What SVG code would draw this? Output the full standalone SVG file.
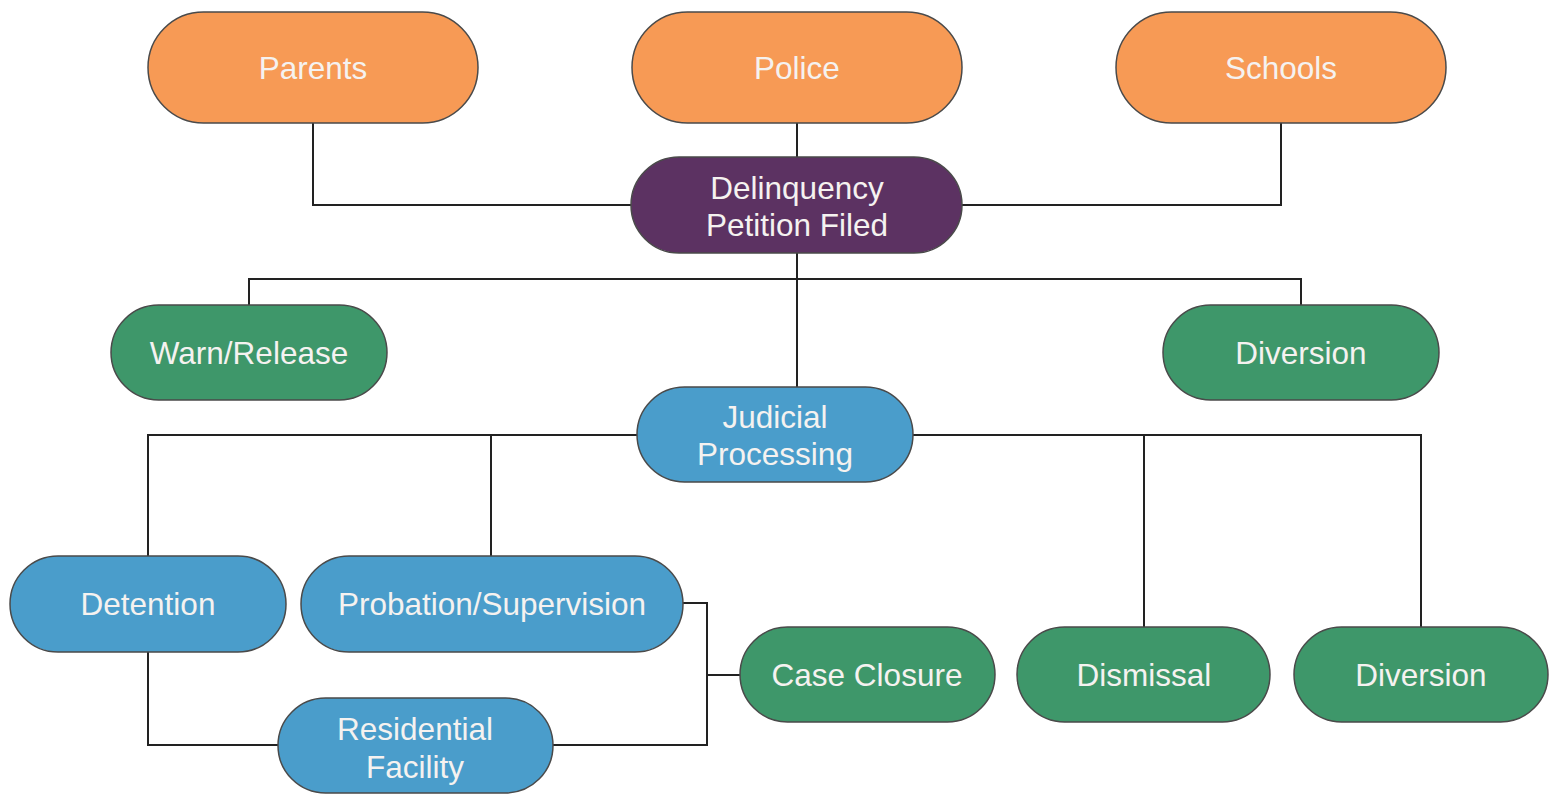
<svg xmlns="http://www.w3.org/2000/svg" width="1557" height="795" viewBox="0 0 1557 795">
<style>
.n rect{stroke:#4a4a4a;stroke-width:1.5}
.o rect{fill:#F79A55}
.p rect{fill:#5C3262}
.g rect{fill:#3E976A}
.b rect{fill:#4A9DCB}
text{font-family:"Liberation Sans",Arial,sans-serif;font-size:31.5px;fill:#F5F2F0;text-anchor:middle;dominant-baseline:central}
#connectors path{fill:none;stroke:#222;stroke-width:2}
</style>
<rect width="1557" height="795" fill="#fff"/>
<g id="connectors">
<path d="M313,123 V205 H631"/>
<path d="M797,123 V157"/>
<path d="M1281,123 V205 H962"/>
<path d="M797,253 V387"/>
<path d="M249,305 V279 H1301 V305"/>
<path d="M637,435 H148 V556"/>
<path d="M491,435 V556"/>
<path d="M913,435 H1421 V627"/>
<path d="M1144,435 V627"/>
<path d="M148,652 V745 H278"/>
<path d="M683,603 H707 V745 H553"/>
<path d="M707,675 H740"/>
</g>
<g id="parents" class="n o"><rect x="148" y="12" width="330" height="111" rx="55.5"/><text x="313" y="68">Parents</text></g>
<g id="police" class="n o"><rect x="632" y="12" width="330" height="111" rx="55.5"/><text x="797" y="68">Police</text></g>
<g id="schools" class="n o"><rect x="1116" y="12" width="330" height="111" rx="55.5"/><text x="1281" y="68">Schools</text></g>
<g id="petition" class="n p"><rect x="631" y="157" width="331" height="96" rx="48"/><text x="797" y="188">Delinquency</text><text x="797" y="225">Petition Filed</text></g>
<g id="warn" class="n g"><rect x="111" y="305" width="276" height="95" rx="47.5"/><text x="249" y="353">Warn/Release</text></g>
<g id="diversion1" class="n g"><rect x="1163" y="305" width="276" height="95" rx="47.5"/><text x="1301" y="353">Diversion</text></g>
<g id="judicial" class="n b"><rect x="637" y="387" width="276" height="95" rx="47.5"/><text x="775" y="417">Judicial</text><text x="775" y="454">Processing</text></g>
<g id="detention" class="n b"><rect x="10" y="556" width="276" height="96" rx="48"/><text x="148" y="604">Detention</text></g>
<g id="probation" class="n b"><rect x="301" y="556" width="382" height="96" rx="48"/><text x="492" y="604">Probation/Supervision</text></g>
<g id="residential" class="n b"><rect x="278" y="698" width="275" height="95" rx="47.5"/><text x="415" y="729">Residential</text><text x="415" y="767">Facility</text></g>
<g id="closure" class="n g"><rect x="740" y="627" width="255" height="95" rx="47.5"/><text x="867" y="675">Case Closure</text></g>
<g id="dismissal" class="n g"><rect x="1017" y="627" width="253" height="95" rx="47.5"/><text x="1144" y="675">Dismissal</text></g>
<g id="diversion2" class="n g"><rect x="1294" y="627" width="254" height="95" rx="47.5"/><text x="1421" y="675">Diversion</text></g>
</svg>
